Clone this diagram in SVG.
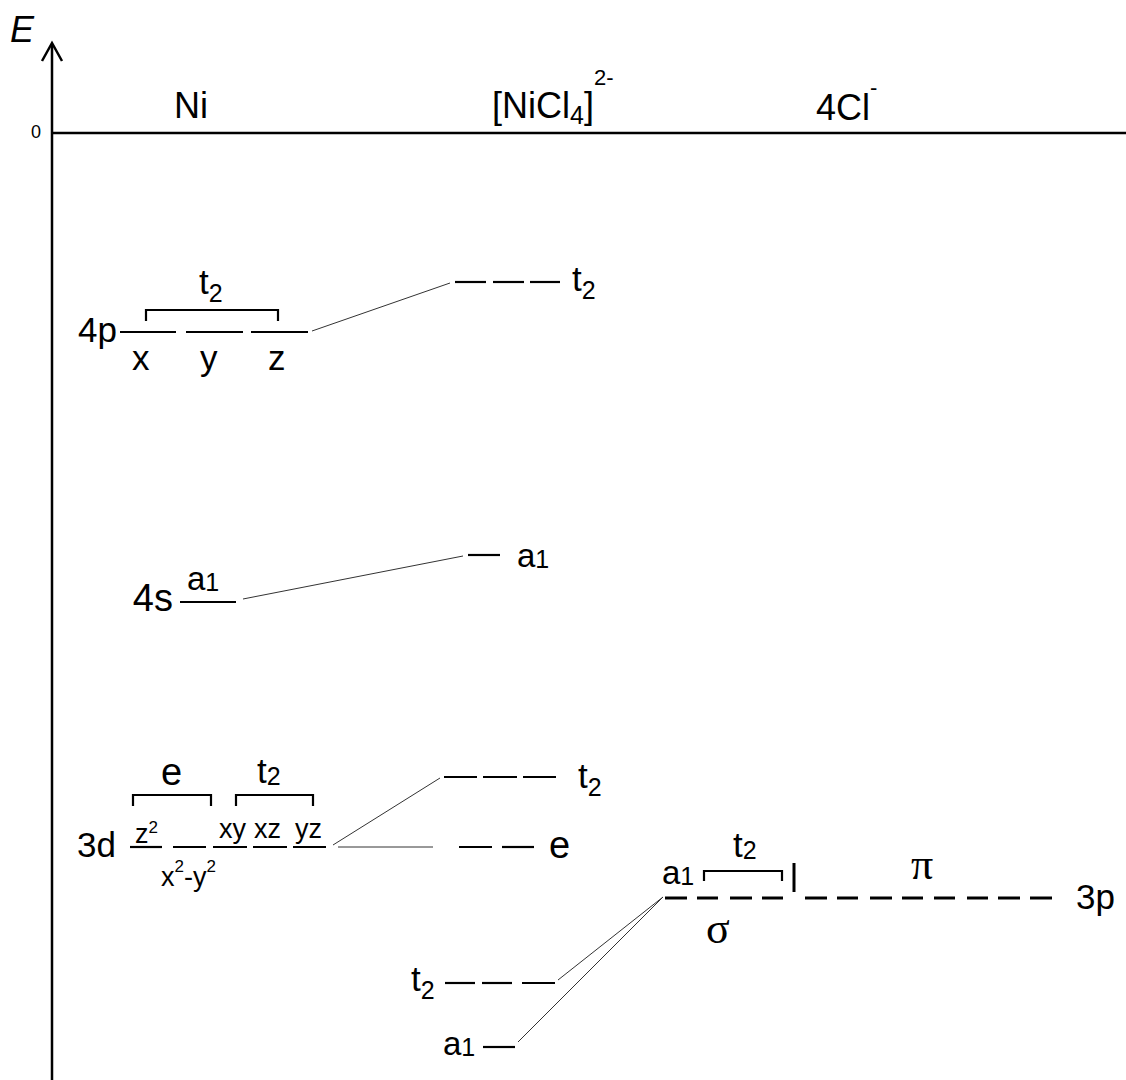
<svg xmlns="http://www.w3.org/2000/svg" width="1126" height="1080" viewBox="0 0 1126 1080">
<style>
text{font-family:"Liberation Sans",Arial,sans-serif;fill:#000}
.h{font-size:36px}
.l{font-size:35px}
.a{font-size:33px}
.s{font-size:25px}
.o{font-size:27px}
.p{font-size:17px}
.g{font-family:"Liberation Serif","Times New Roman",serif;font-size:44px}
.lv{stroke:#000;stroke-width:2.2;fill:none}
.br{stroke:#000;stroke-width:2.2;fill:none}
.cn{stroke:#333;stroke-width:1;fill:none}
.ax{stroke:#000;stroke-width:2.5;fill:none}
</style>
<rect width="1126" height="1080" fill="#fff"/>
<g id="axes">
<line class="ax" x1="52" y1="1080" x2="52" y2="44"/>
<polyline class="ax" points="42,61 52,43 62,61"/>
<line class="ax" x1="52" y1="133" x2="1126" y2="133"/>
<text x="10" y="42" style="font-size:36px;font-style:italic">E</text>
<text x="31" y="138" style="font-size:18px">0</text>
</g>
<g id="headers">
<text class="h" x="174" y="118">Ni</text>
<text class="h" x="492" y="118">[NiCl<tspan class="s" dy="6">4</tspan><tspan dy="-6">]</tspan><tspan style="font-size:22px" dy="-33">2-</tspan></text>
<text class="h" x="816" y="120">4Cl<tspan style="font-size:22px" dy="-25">-</tspan></text>
</g>
<g id="Ni-4p">
<text class="l" x="117" y="342" text-anchor="end">4p</text>
<line class="lv" x1="120" y1="332" x2="176" y2="332"/>
<line class="lv" x1="186" y1="332" x2="243" y2="332"/>
<line class="lv" x1="251" y1="332" x2="308" y2="332"/>
<path class="br" d="M146,321 V310 H278 V321"/>
<text class="l" x="199" y="294">t<tspan class="s" dy="8">2</tspan></text>
<text class="l" x="132" y="370">x</text>
<text class="l" x="200" y="370">y</text>
<text class="l" x="268" y="370">z</text>
</g>
<g id="Ni-4s">
<text x="173" y="611" text-anchor="end" style="font-size:38px">4s</text>
<line class="lv" x1="180" y1="602" x2="236" y2="602"/>
<text class="a" x="187" y="590">a<tspan class="s" dy="1">1</tspan></text>
</g>
<g id="Ni-3d">
<text class="l" x="116" y="857" text-anchor="end">3d</text>
<line class="lv" x1="130" y1="847" x2="162" y2="847"/>
<line class="lv" x1="173" y1="847" x2="206" y2="847"/>
<line class="lv" x1="213" y1="847" x2="247" y2="847"/>
<line class="lv" x1="253" y1="847" x2="287" y2="847"/>
<line class="lv" x1="293" y1="847" x2="326" y2="847"/>
<text class="o" x="135" y="843">z<tspan class="p" dy="-10">2</tspan></text>
<text class="o" x="161" y="886">x<tspan class="p" dy="-14">2</tspan><tspan dy="14">-y</tspan><tspan class="p" dy="-14">2</tspan></text>
<text class="o" x="219" y="838">xy</text>
<text class="o" x="254" y="838">xz</text>
<text class="o" x="295" y="838">yz</text>
<path class="br" d="M133,806 V795 H211 V806"/>
<path class="br" d="M236,806 V795 H313 V806"/>
<text x="161" y="785" style="font-size:38px">e</text>
<text class="l" x="257" y="783">t<tspan class="s" dy="2">2</tspan></text>
</g>
<g id="MO-t2-top">
<line class="lv" x1="455" y1="282" x2="486" y2="282"/>
<line class="lv" x1="493" y1="282" x2="524" y2="282"/>
<line class="lv" x1="530" y1="282" x2="560" y2="282"/>
<text class="l" x="572" y="291">t<tspan class="s" dy="8">2</tspan></text>
</g>
<g id="MO-a1-top">
<line class="lv" x1="468" y1="555" x2="500" y2="555"/>
<text class="a" x="517" y="567">a<tspan class="s" dy="1">1</tspan></text>
</g>
<g id="MO-t2-mid">
<line class="lv" x1="444" y1="777" x2="477" y2="777"/>
<line class="lv" x1="483" y1="777" x2="517" y2="777"/>
<line class="lv" x1="523" y1="777" x2="556" y2="777"/>
<text class="l" x="578" y="788">t<tspan class="s" dy="8">2</tspan></text>
</g>
<g id="MO-e">
<line class="lv" x1="459" y1="847" x2="492" y2="847"/>
<line class="lv" x1="502" y1="847" x2="534" y2="847"/>
<text x="549" y="858" style="font-size:38px">e</text>
</g>
<g id="MO-t2-low">
<line class="lv" x1="445" y1="983" x2="475" y2="983"/>
<line class="lv" x1="482" y1="983" x2="512" y2="983"/>
<line class="lv" x1="522" y1="983" x2="555" y2="983"/>
<text class="l" x="411" y="991">t<tspan class="s" dy="8">2</tspan></text>
</g>
<g id="MO-a1-low">
<line class="lv" x1="483" y1="1047" x2="515" y2="1047"/>
<text class="a" x="443" y="1055">a<tspan class="s" dy="1">1</tspan></text>
</g>
<g id="Cl-3p">
<g class="lv" style="stroke-width:3">
<line x1="665" y1="898" x2="687" y2="898"/>
<line x1="697" y1="898" x2="718" y2="898"/>
<line x1="730" y1="898" x2="752" y2="898"/>
<line x1="762" y1="898" x2="783" y2="898"/>
<line x1="805" y1="898" x2="827" y2="898"/>
<line x1="837" y1="898" x2="858" y2="898"/>
<line x1="870" y1="898" x2="892" y2="898"/>
<line x1="902" y1="898" x2="923" y2="898"/>
<line x1="934" y1="898" x2="955" y2="898"/>
<line x1="967" y1="898" x2="988" y2="898"/>
<line x1="998" y1="898" x2="1020" y2="898"/>
<line x1="1030" y1="898" x2="1052" y2="898"/>
<line x1="794" y1="863" x2="794" y2="892"/>
</g>
<text class="a" x="662" y="884">a<tspan class="s" dy="1">1</tspan></text>
<path class="br" d="M704,881 V871 H782 V881"/>
<text class="l" x="733" y="857">t<tspan class="s" dy="2">2</tspan></text>
<text class="g" x="911" y="879">π</text>
<text class="g" x="706" y="943">σ</text>
<text class="l" x="1076" y="909">3p</text>
</g>
<g id="connectors">
<line class="cn" x1="312" y1="331" x2="450" y2="283"/>
<line class="cn" x1="243" y1="599" x2="463" y2="556"/>
<line class="cn" x1="333" y1="845" x2="440" y2="778"/>
<line class="cn" x1="338" y1="847" x2="433" y2="847"/>
<line class="cn" x1="558" y1="980" x2="663" y2="897"/>
<line class="cn" x1="518" y1="1042" x2="663" y2="897"/>
</g>
</svg>
